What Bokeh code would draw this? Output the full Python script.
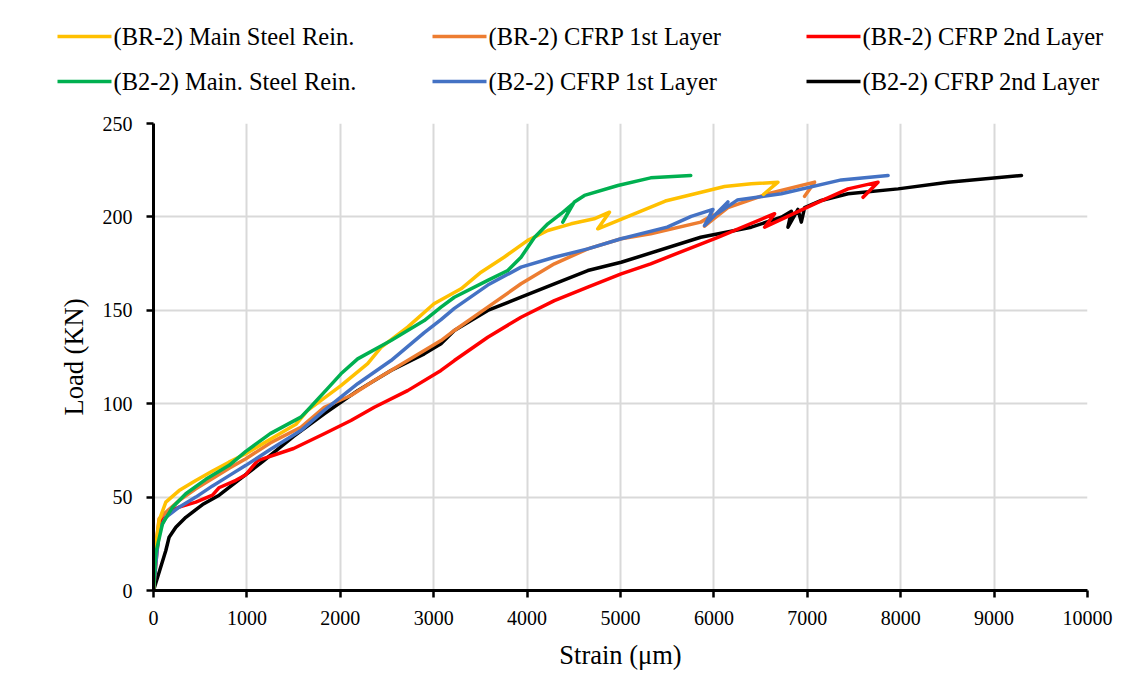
from bokeh.plotting import figure
from bokeh.layouts import column
from bokeh.models import Range1d, FixedTicker
from bokeh.core.properties import value
from bokeh.embed import file_html
from bokeh.resources import INLINE

# ---------------- data (strain in micro-strain, load in kN) ----------------
br2_main_strain = [0, 15, 60, 132, 274, 453, 632, 807, 989, 1250, 1525, 1650, 2007, 2293, 2436,
                   2721, 3003, 3293, 3507, 3753, 4007, 4222, 4471, 4718, 4882, 4757, 4972, 5480,
                   5864, 6114, 6400, 6686, 6530]
br2_main_load = [0, 20, 37.5, 47.3, 53.5, 58.9, 64, 68.7, 73.2, 81, 89, 96.4, 109.7, 121.4, 130.2,
                 141, 153.5, 161.5, 170.4, 178.4, 187.4, 192.7, 196.3, 199, 202.5, 193.6, 198, 208.5,
                 213.2, 216.3, 217.7, 218.6, 212]

br2_c1_strain = [0, 14, 60, 132, 274, 453, 632, 810, 989, 1250, 1578, 1828, 2114, 2364, 2721, 3078,
                 3221, 3579, 3935, 4292, 4650, 5007, 5323, 5859, 5990, 5900, 6010, 6150, 6579, 7078, 6971]
br2_c1_load = [0, 20, 38.4, 41.9, 48.2, 54.4, 60, 65.5, 70.5, 79, 87.4, 98.1, 104.4, 112.4, 123.1, 133.8,
               139.2, 151.7, 164.2, 174.9, 182.9, 188.3, 191, 197.2, 201, 195, 199.5, 205, 212.4, 218.6, 211]

br2_c2_strain = [0, 35, 78, 114, 274, 453, 632, 700, 882, 989, 1114, 1500, 1828, 2114, 2364, 2721, 3078,
                 3221, 3579, 3935, 4292, 4650, 5007, 5323, 6043, 6650, 6543, 7078, 7436, 7757, 7597]
br2_c2_load = [0, 20, 37.5, 41, 44.6, 47.3, 51, 55, 59, 62, 69.5, 76, 83.9, 91, 98.1, 107, 117.8,
               123.1, 135.6, 146.3, 155.2, 162.4, 169.5, 174.9, 189.1, 201.7, 194.5, 207, 215, 218.6, 210.5]

b22_main_strain = [0, 25, 96, 204, 346, 560, 810, 989, 1250, 1578, 1650, 1880, 2007, 2186, 2543, 2899,
                   3078, 3221, 3579, 3793, 3935, 4078, 4222, 4364, 4489, 4382, 4506, 4614, 4972, 5323, 5752]
b22_main_load = [0, 20, 35.7, 44.6, 51.8, 59.5, 67, 74.5, 84, 92.8, 96.5, 109, 116, 124, 133.8, 144.5,
                 151.7, 157, 166, 171.3, 178.4, 189, 196.3, 201.7, 207, 197.2, 208, 211.5, 216.8, 220.9, 222.2]

b22_c1_strain = [0, 25, 60, 132, 274, 453, 632, 810, 989, 1250, 1578, 1828, 2186, 2543, 2899, 3078,
                 3221, 3579, 3935, 4292, 4650, 5007, 5500, 5757, 5990, 5900, 6150, 6043, 6250, 6722, 7364, 7865]
b22_c1_load = [0, 14.3, 32, 39.2, 44.6, 50, 56, 61.5, 67, 75.5, 85.6, 96.4, 110.7, 123.1, 138, 145,
               151, 163.5, 173.1, 178.4, 182.9, 188.3, 194.5, 200.3, 204, 195.4, 208, 202, 209, 212.4, 219.8, 222.2]

b22_c2_strain = [0, 132, 167, 239, 346, 525, 703, 935, 1168, 1500, 1828, 2186, 2543, 2899, 3078, 3221,
                 3579, 3935, 4292, 4650, 5007, 5859, 6400, 6722, 6830, 6793, 6900, 6936, 6971, 7150, 7436,
                 7972, 8507, 9293]
b22_c2_load = [0, 21.4, 28.5, 33.9, 39.2, 46, 51, 60, 69, 82.5, 94.6, 107, 117.8, 126.7, 132.1, 139.2,
               149.9, 157, 164.2, 171.3, 175.7, 189.1, 194.5, 199.8, 203, 194.5, 204, 197.2, 205, 208.8, 212.4,
               215, 218.6, 222.2]

series_names = ["(BR-2) Main Steel Rein.", "(BR-2) CFRP 1st Layer", "(BR-2) CFRP 2nd Layer",
                "(B2-2) Main. Steel Rein.", "(B2-2) CFRP 1st Layer", "(B2-2) CFRP 2nd Layer"]
series_colors = ["#FFC000", "#ED7D31", "#FF0000", "#00B050", "#4472C4", "#000000"]

x_ticks = [0, 1000, 2000, 3000, 4000, 5000, 6000, 7000, 8000, 9000, 10000]
y_ticks = [0, 50, 100, 150, 200, 250]

FONT = "Liberation Serif"
W = 1126
LEG_H = 108

# ---------------- main chart ----------------
p = figure(width=W, height=691 - LEG_H, output_backend="svg", toolbar_location=None,
           x_range=Range1d(0, 10000), y_range=Range1d(0, 250),
           min_border_left=153, min_border_right=39, min_border_top=15, min_border_bottom=101)
p.outline_line_color = None
p.background_fill_color = "white"
p.border_fill_color = "white"

all_series = [
    (b22_c2_strain, b22_c2_load, 5),
    (br2_c2_strain, br2_c2_load, 2),
    (br2_c1_strain, br2_c1_load, 1),
    (b22_c1_strain, b22_c1_load, 4),
    (br2_main_strain, br2_main_load, 0),
    (b22_main_strain, b22_main_load, 3),
]
for xs, ys, i in all_series:
    p.line(xs, ys, line_color=series_colors[i], line_width=3.5,
           line_join="round", line_cap="round")

p.xaxis.ticker = FixedTicker(ticks=x_ticks)
p.yaxis.ticker = FixedTicker(ticks=y_ticks)
for ax in (p.xaxis[0], p.yaxis[0]):
    ax.axis_line_color = "black"
    ax.axis_line_width = 3
    ax.major_tick_line_color = "black"
    ax.major_tick_line_width = 2.5
    ax.major_tick_out = 7
    ax.major_tick_in = 0
    ax.minor_tick_out = 0
    ax.minor_tick_in = 0
    ax.major_label_text_font = FONT
    ax.major_label_text_font_size = "20px"
    ax.major_label_text_color = "black"
    ax.axis_label_text_font = FONT
    ax.axis_label_text_font_size = "26.5px"
    ax.axis_label_text_font_style = "normal"
    ax.axis_label_text_color = "black"

p.xaxis.axis_label = "Strain (μm)"
p.yaxis.axis_label = "Load (KN)"
p.xaxis.major_label_standoff = 13
p.yaxis.major_label_standoff = 14
p.xaxis.axis_label_standoff = 12
p.yaxis.axis_label_standoff = 11

p.xgrid.grid_line_color = "#d9d9d9"
p.ygrid.grid_line_color = "#d9d9d9"
p.xgrid.grid_line_width = 2
p.ygrid.grid_line_width = 2

# ---------------- legend strip (pixel coordinates, y downward) ----------------
lg = figure(width=W, height=LEG_H, output_backend="svg", toolbar_location=None,
            x_range=Range1d(0, W), y_range=Range1d(LEG_H, 0),
            x_axis_type=None, y_axis_type=None, min_border=0)
lg.outline_line_color = None
lg.xgrid.visible = False
lg.ygrid.visible = False
lg.border_fill_color = "white"
lg.background_fill_color = "white"

for fig in (lg, p):
    fig.frame_align = False

col_x = [57, 432, 806]
row_y = [36, 81]
glyph_w = 54
for i in range(6):
    cx = col_x[i % 3]
    cy = row_y[i // 3]
    lg.segment(x0=[cx], y0=[cy], x1=[cx + glyph_w], y1=[cy],
               line_color=series_colors[i], line_width=3.5)
    lg.text(x=[cx + glyph_w + 2], y=[cy], text=[series_names[i]],
            text_font=value(FONT), text_font_size=value("24.5px"),
            text_color="black", text_baseline="middle", text_align="left")

open("out.html", "w").write(file_html(column(lg, p, spacing=0), INLINE))
